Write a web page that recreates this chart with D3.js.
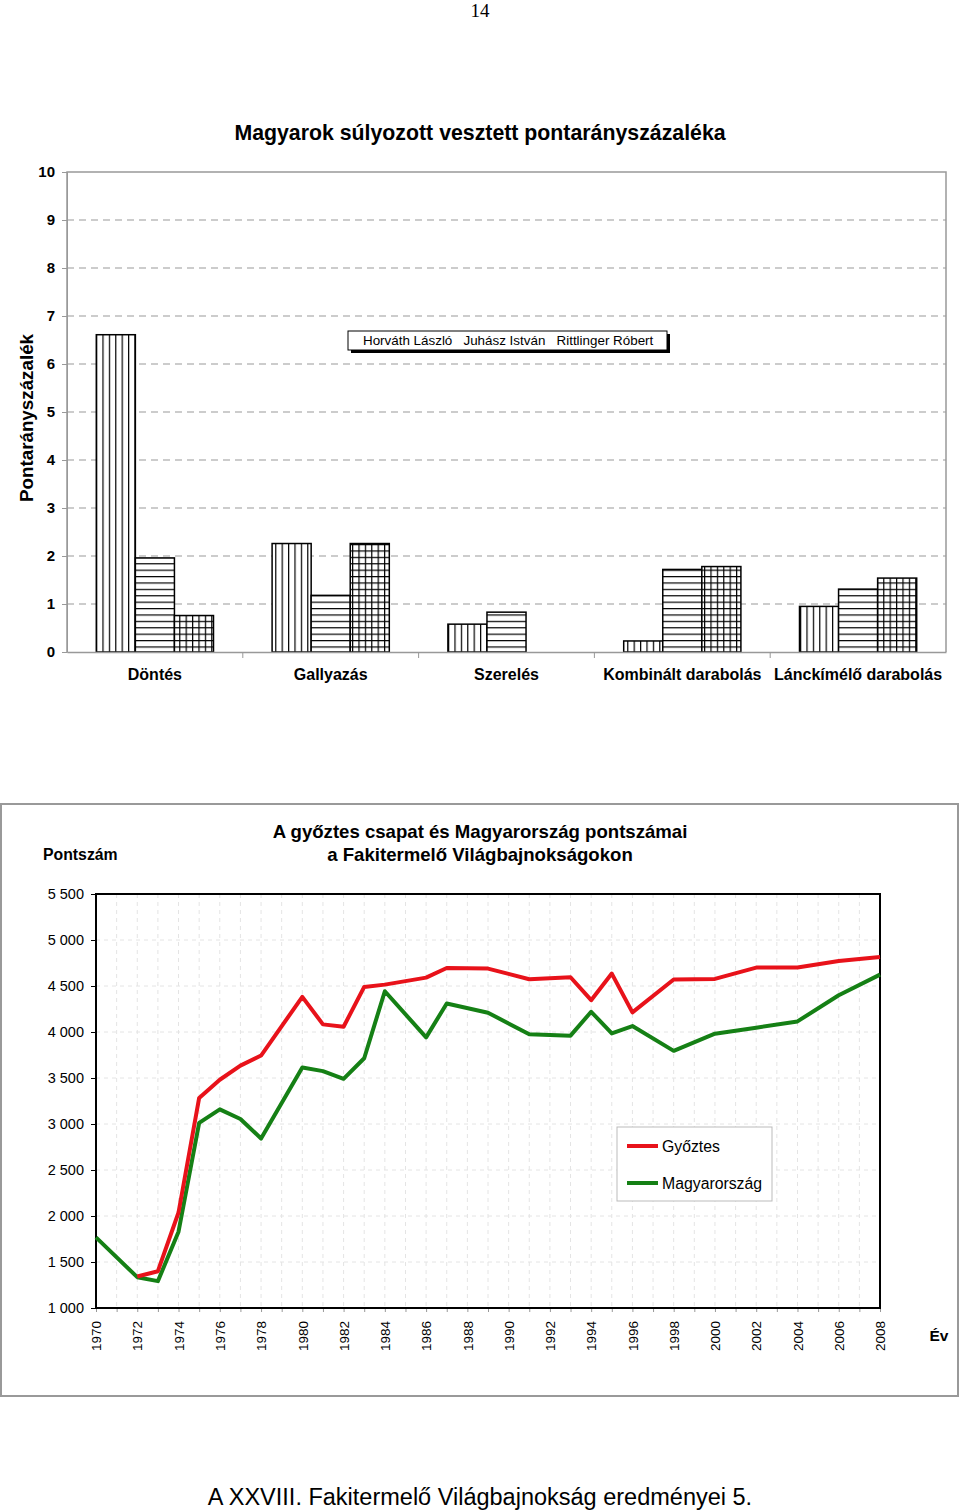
<!DOCTYPE html>
<html><head><meta charset="utf-8">
<script src="https://cdn.jsdelivr.net/npm/d3@7/dist/d3.min.js"></script>
<style>body{margin:0;background:#fff}svg{display:block;font-family:"Liberation Sans",Arial,sans-serif}</style>
</head><body><svg id="c" width="960" height="1510"></svg>
<script>
// ---- Top chart data ----
const categories = ["Döntés","Gallyazás","Szerelés","Kombinált darabolás","Lánckímélő darabolás"];
const persons = ["Horváth László","Juhász István","Rittlinger Róbert"];
const horvath = [6.61, 2.26, 0.58, 0.23, 0.95];
const juhasz = [1.96, 1.18, 0.83, 1.72, 1.31];
const rittlinger = [0.76, 2.26, 0, 1.78, 1.54];
const topTicks = [0,1,2,3,4,5,6,7,8,9,10];

// ---- Bottom chart data ----
const years = [1970,1972,1973,1974,1975,1976,1977,1978,1980,1981,1982,1983,1984,1986,1987,1989,1991,1993,1994,1995,1996,1998,2000,2002,2004,2006,2008];
const gyoztes = [null,1342,1400,2038,3283,3481,3635,3744,4382,4083,4057,4490,4515,4591,4695,4689,4573,4595,4346,4635,4213,4570,4577,4700,4700,4771,4815];
const magyarorszag = [1768,1335,1292,1829,3012,3159,3055,2842,3614,3575,3491,3715,4443,3942,4310,4210,3975,3960,4220,3985,4065,3795,3982,4047,4115,4400,4624];
const yTicks = [1000,1500,2000,2500,3000,3500,4000,4500,5000,5500];
const xTickYears = d3.range(1970, 2009, 2);

const svg = d3.select("#c");
const defs = svg.append("defs");
const pat = (id, draw) => {
  const p = defs.append("pattern").attr("id", id).attr("patternUnits","userSpaceOnUse").attr("width",6.4).attr("height",6.4);
  p.append("rect").attr("width",6.4).attr("height",6.4).attr("fill","#fff");
  draw(p);
};
pat("pv", p => p.append("line").attr("x1",0.6).attr("x2",0.6).attr("y1",0).attr("y2",6.4).attr("stroke","#000").attr("stroke-width",1.2));
pat("ph", p => p.append("line").attr("y1",0.6).attr("y2",0.6).attr("x1",0).attr("x2",6.4).attr("stroke","#000").attr("stroke-width",1.2));
pat("pg", p => { p.append("line").attr("x1",0.6).attr("x2",0.6).attr("y1",0).attr("y2",6.4).attr("stroke","#000").attr("stroke-width",1.2);
  p.append("line").attr("y1",0.6).attr("y2",0.6).attr("x1",0).attr("x2",6.4).attr("stroke","#000").attr("stroke-width",1.2); });

// page number
svg.append("text").attr("x",480).attr("y",17).attr("text-anchor","middle").attr("font-family","Liberation Serif").attr("font-size",19).text("14");

// ---- TOP CHART ----
const tL=67, tR=946, tT=172, tB=652;
const x0 = d3.scaleBand().domain(categories).range([tL,tR]);
const x1 = d3.scaleBand().domain(persons).range([0,x0.bandwidth()]).paddingInner(0).paddingOuter(0.75);
const yT = d3.scaleLinear().domain([0,10]).range([tB,tT]);

svg.append("text").attr("x",480).attr("y",140).attr("text-anchor","middle").attr("font-weight","bold").attr("font-size",21.3).text("Magyarok súlyozott vesztett pontarányszázaléka");
svg.append("text").attr("transform",`translate(33,418) rotate(-90)`).attr("text-anchor","middle").attr("font-weight","bold").attr("font-size",18.8).text("Pontarányszázalék");

const gT = svg.append("g");
// gridlines
gT.selectAll(".gl").data(topTicks.filter(t=>t>0 && t<10)).join("line")
  .attr("x1",tL).attr("x2",tR).attr("y1",d=>yT(d)).attr("y2",d=>yT(d))
  .attr("stroke","#999").attr("stroke-dasharray","7,5").attr("stroke-width",1);
// frame
gT.append("path").attr("d",`M${tL},${tB}V${tT}H${tR}V${tB}`).attr("fill","none").attr("stroke","#999").attr("stroke-width",1.5);
const yAxisT = gT.append("g").attr("transform",`translate(${tL},0)`).call(d3.axisLeft(yT).tickValues(topTicks).tickSize(5).tickPadding(7));
yAxisT.select(".domain").attr("stroke","#999");
yAxisT.selectAll("line").attr("stroke","#999");
yAxisT.selectAll("text").attr("font-size",15).attr("font-weight","bold").attr("font-family","Liberation Sans").attr("fill","#000");

const series = [horvath, juhasz, rittlinger];
const fills = ["url(#pv)","url(#ph)","url(#pg)"];
categories.forEach((c,i)=>{
  persons.forEach((p,j)=>{
    const v = series[j][i];
    if (v<=0) return;
    gT.append("rect").attr("x",x0(c)+x1(p)).attr("width",x1.bandwidth()).attr("y",yT(v)).attr("height",yT(0)-yT(v))
      .attr("fill",fills[j]).attr("stroke","#000").attr("stroke-width",1.5);
  });
});
const xAxisT = gT.append("g").attr("transform",`translate(0,${tB})`).call(d3.axisBottom(x0).tickSize(0).tickPadding(17));
xAxisT.select(".domain").attr("stroke","#999").attr("stroke-width",1.5);
xAxisT.selectAll("text").attr("font-size",16).attr("font-weight","bold").attr("font-family","Liberation Sans").attr("fill","#000");
// category separators ticks
gT.selectAll(".ct").data(categories.slice(1)).join("line").attr("x1",d=>x0(d)).attr("x2",d=>x0(d)).attr("y1",tB).attr("y2",tB+6).attr("stroke","#999");

// legend box
const lg = gT.append("g");
lg.append("rect").attr("x",351).attr("y",334).attr("width",319).attr("height",19).attr("fill","#000");
lg.append("rect").attr("x",348).attr("y",331).attr("width",319).attr("height",19).attr("fill","#fff").attr("stroke","#000").attr("stroke-width",1);
lg.append("text").attr("x",363).attr("y",345).attr("font-size",13.4).attr("xml:space","preserve").text(persons.join("   "));

// ---- BOTTOM CHART ----
svg.append("rect").attr("x",1).attr("y",804).attr("width",957).attr("height",592).attr("fill","#fff").attr("stroke","#999").attr("stroke-width",2);
const bL=96, bR=880, bT=894, bB=1308;
const xB = d3.scaleLinear().domain([1970,2008]).range([bL,bR]);
const yB = d3.scaleLinear().domain([1000,5500]).range([bB,bT]);
const gB = svg.append("g");
gB.append("text").attr("x",480).attr("y",838).attr("text-anchor","middle").attr("font-weight","bold").attr("font-size",18.6).text("A győztes csapat és Magyarország pontszámai");
gB.append("text").attr("x",480).attr("y",861).attr("text-anchor","middle").attr("font-weight","bold").attr("font-size",18.6).text("a Fakitermelő Világbajnokságokon");
gB.append("text").attr("x",43).attr("y",860).attr("font-weight","bold").attr("font-size",15.8).text("Pontszám");

// grid
gB.selectAll(".vg").data(d3.range(1971,2008)).join("line").attr("x1",d=>xB(d)).attr("x2",d=>xB(d)).attr("y1",bT).attr("y2",bB)
  .attr("stroke","#e4e4e4").attr("stroke-dasharray","4,4");
gB.selectAll(".hg").data(yTicks.slice(1,-1)).join("line").attr("x1",bL).attr("x2",bR).attr("y1",d=>yB(d)).attr("y2",d=>yB(d))
  .attr("stroke","#e4e4e4").attr("stroke-dasharray","4,4");

const fmt = d => d3.format(",")(d).replace(",", " ");
const yAxisB = gB.append("g").attr("transform",`translate(${bL},0)`).call(d3.axisLeft(yB).tickValues(yTicks).tickFormat(fmt).tickSize(5).tickPadding(7));
yAxisB.selectAll("text").attr("font-size",14.5).attr("font-family","Liberation Sans").attr("fill","#000");
yAxisB.select(".domain").remove();
const xAxisB = gB.append("g").attr("transform",`translate(0,${bB})`).call(d3.axisBottom(xB).tickValues(d3.range(1970,2009)).tickFormat(d=>xTickYears.includes(d)?d:"").tickSize(4));
xAxisB.select(".domain").remove();
xAxisB.selectAll("line").attr("stroke","#999");
xAxisB.selectAll("text").attr("font-size",13.5).attr("font-family","Liberation Sans").attr("fill","#000")
  .attr("transform","rotate(-90)").attr("text-anchor","end").attr("dy","0.35em").attr("x",-13).attr("y",0);
gB.append("rect").attr("x",bL).attr("y",bT).attr("width",bR-bL).attr("height",bB-bT).attr("fill","none").attr("stroke","#000").attr("stroke-width",2);
gB.append("text").attr("x",939).attr("y",1341).attr("text-anchor","middle").attr("font-weight","bold").attr("font-size",15.5).text("Év");

const line = d3.line().defined(d=>d[1]!=null).x(d=>xB(d[0])).y(d=>yB(d[1]));
const red = "#e8121a", green = "#158015";
gB.append("path").datum(years.map((y,i)=>[y,magyarorszag[i]])).attr("d",line).attr("fill","none").attr("stroke",green).attr("stroke-width",4).attr("stroke-linejoin","round");
gB.append("path").datum(years.map((y,i)=>[y,gyoztes[i]])).attr("d",line).attr("fill","none").attr("stroke",red).attr("stroke-width",4).attr("stroke-linejoin","round");

// legend
const lb = gB.append("g");
lb.append("rect").attr("x",617).attr("y",1127).attr("width",155).attr("height",74).attr("fill","#fff").attr("stroke","#bbb").attr("stroke-width",1);
[["Győztes",red,1146],["Magyarország",green,1183]].forEach(([t,c,y])=>{
  lb.append("line").attr("x1",627).attr("x2",658).attr("y1",y).attr("y2",y).attr("stroke",c).attr("stroke-width",4);
  lb.append("text").attr("x",662).attr("y",y+5.5).attr("font-size",15.8).text(t);
});

// footer
svg.append("text").attr("x",480).attr("y",1505).attr("text-anchor","middle").attr("font-size",23.5).text("A XXVIII. Fakitermelő Világbajnokság eredményei 5.");
</script></body></html>
